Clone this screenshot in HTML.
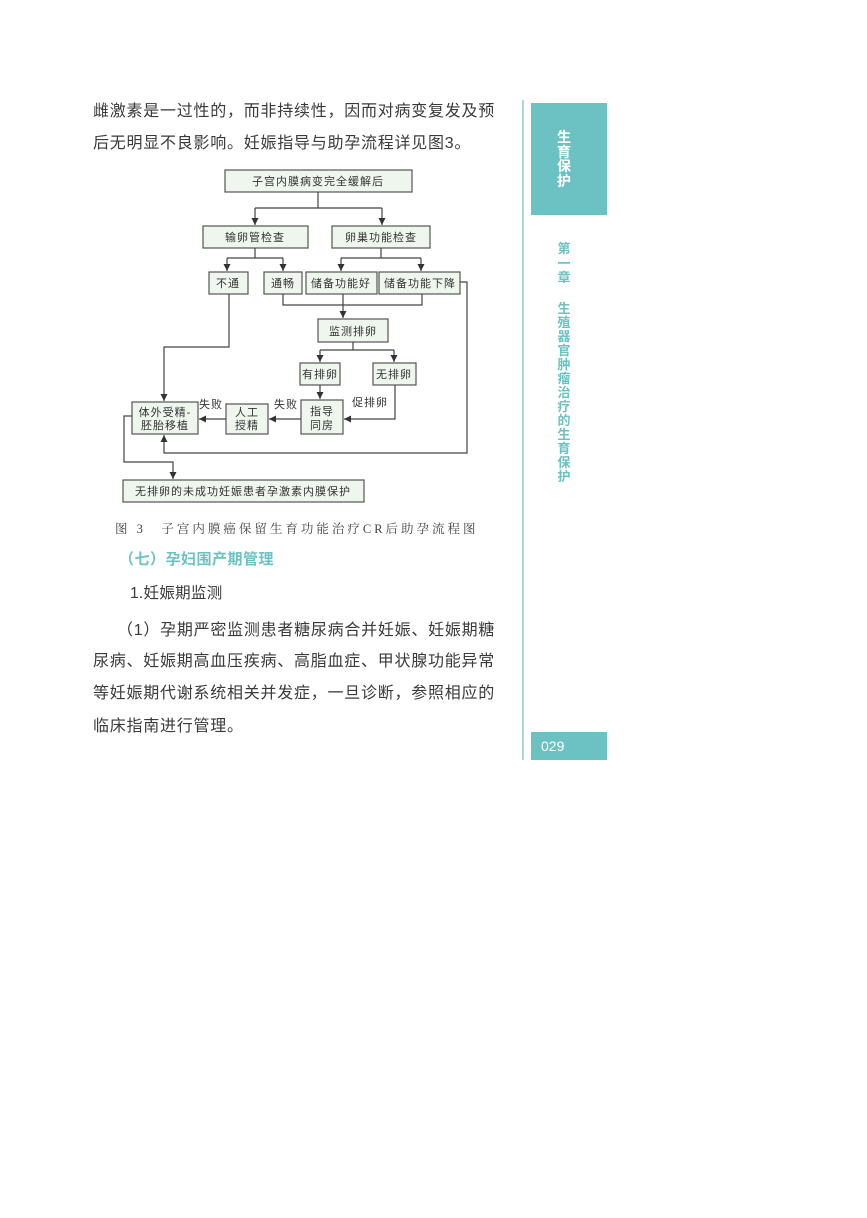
<!DOCTYPE html>
<html><head><meta charset="utf-8"><style>
body{margin:0;background:#fff;width:867px;height:1218px;position:relative;overflow:hidden;font-family:"Liberation Sans","Noto Sans CJK SC",sans-serif;color:#3a3a3a}
.t{position:absolute;white-space:nowrap;font-size:16px;letter-spacing:0.75px;line-height:20px}
.v{position:absolute;width:20px;text-align:center;font-size:13px;line-height:14px;font-weight:bold}
</style></head><body>
<div class="t" style="left:93px;top:102px;">雌激素是一过性的，而非持续性，因而对病变复发及预</div>
<div class="t" style="left:93px;top:134px;">后无明显不良影响。妊娠指导与助孕流程详见图3。</div>

<svg style="position:absolute;left:0;top:0" width="867" height="1218" font-family="Liberation Sans, Noto Sans CJK SC, sans-serif" font-size="11" fill="#333">
<defs><marker id="a" markerWidth="8" markerHeight="8" refX="7" refY="4" orient="auto" markerUnits="userSpaceOnUse"><path d="M0,0.5 L7,4 L0,7.5z" fill="#333"/></marker></defs>
<g fill="#eef6ee" stroke="#555" stroke-width="1.2">
<rect x="225" y="170" width="187" height="22"/>
<rect x="203" y="226" width="105" height="22"/>
<rect x="332" y="226" width="98" height="22"/>
<rect x="209" y="272" width="39" height="22"/>
<rect x="264" y="272" width="38" height="22"/>
<rect x="306" y="272" width="71" height="22"/>
<rect x="379" y="272" width="81" height="22"/>
<rect x="318" y="319" width="70" height="23"/>
<rect x="300" y="363" width="40" height="22"/>
<rect x="373" y="363" width="43" height="22"/>
<rect x="301" y="400" width="42" height="34"/>
<rect x="226" y="404" width="42" height="30"/>
<rect x="132" y="402" width="66" height="32"/>
<rect x="123" y="480" width="241" height="22"/>
</g>
<g fill="none" stroke="#444" stroke-width="1.2">
<path d="M318,192V208M255,208H382"/>
<path d="M255,208V225" marker-end="url(#a)"/><path d="M382,208V225" marker-end="url(#a)"/>
<path d="M255,248V258M227,258H283"/>
<path d="M227,258V271" marker-end="url(#a)"/><path d="M283,258V271" marker-end="url(#a)"/>
<path d="M381,248V258M341,258H421"/>
<path d="M341,258V271" marker-end="url(#a)"/><path d="M421,258V271" marker-end="url(#a)"/>
<path d="M283,294V305H422V294"/>
<path d="M343,294V318" marker-end="url(#a)"/>
<path d="M229,294V347H164V401" marker-end="url(#a)"/>
<path d="M460,282H467V453H164V435" marker-end="url(#a)"/>
<path d="M353,342V350M320,350H394"/>
<path d="M320,350V362" marker-end="url(#a)"/><path d="M394,350V362" marker-end="url(#a)"/>
<path d="M320,385V399" marker-end="url(#a)"/>
<path d="M395,385V419H344" marker-end="url(#a)"/>
<path d="M301,419H269" marker-end="url(#a)"/>
<path d="M226,419H199" marker-end="url(#a)"/>
<path d="M132,416H124V462H173V479" marker-end="url(#a)"/>
</g>
<g text-anchor="middle" letter-spacing="1">
<text x="318" y="185">子宫内膜病变完全缓解后</text>
<text x="255" y="241">输卵管检查</text>
<text x="381" y="241">卵巢功能检查</text>
<text x="228" y="287">不通</text>
<text x="283" y="287">通畅</text>
<text x="341" y="287">储备功能好</text>
<text x="420" y="287">储备功能下降</text>
<text x="353" y="335">监测排卵</text>
<text x="320" y="378">有排卵</text>
<text x="394" y="378">无排卵</text>
<text x="322" y="415">指导</text><text x="322" y="429">同房</text>
<text x="247" y="416">人工</text><text x="247" y="429">授精</text>
<text x="165" y="416">体外受精-</text><text x="165" y="429">胚胎移植</text>
<text x="243" y="495">无排卵的未成功妊娠患者孕激素内膜保护</text>
<text x="370" y="406">促排卵</text>
<text x="286" y="408">失败</text>
<text x="211" y="408">失败</text>
</g>
</svg>

<div class="t" style="left:115px;top:519px;font-size:12.5px;letter-spacing:3px;color:#444;font-family:'Liberation Serif','Noto Serif CJK SC',serif">图 3　子宫内膜癌保留生育功能治疗CR后助孕流程图</div>
<div class="t" style="left:119px;top:550px;font-size:15px;letter-spacing:0.5px;color:#6cc2c2;font-weight:bold">（七）孕妇围产期管理</div>
<div class="t" style="left:130px;top:584px;font-size:15.5px;letter-spacing:0.3px">1.妊娠期监测</div>
<div class="t" style="left:117px;top:621px;">（1）孕期严密监测患者糖尿病合并妊娠、妊娠期糖</div>
<div class="t" style="left:93px;top:652px;">尿病、妊娠期高血压疾病、高脂血症、甲状腺功能异常</div>
<div class="t" style="left:93px;top:684px;">等妊娠期代谢系统相关并发症，一旦诊断，参照相应的</div>
<div class="t" style="left:93px;top:717px;">临床指南进行管理。</div>

<div style="position:absolute;left:522px;top:100px;width:2px;height:660px;background:#a9d6d6"></div>
<div style="position:absolute;left:531px;top:103px;width:76px;height:112px;background:#6cc2c2"></div>
<div class="v" style="left:554px;top:130px;color:#fff;font-size:14px;line-height:14.5px">生<br>育<br>保<br>护</div>
<div class="v" style="left:554px;top:242px;color:#6cc2c2;line-height:14.5px">第<br>一<br>章</div>
<div class="v" style="left:554px;top:302px;color:#6cc2c2">生<br>殖<br>器<br>官<br>肿<br>瘤<br>治<br>疗<br>的<br>生<br>育<br>保<br>护</div>
<div style="position:absolute;left:531px;top:732px;width:76px;height:28px;background:#6cc2c2;color:#fff;font-size:14px;line-height:28px;padding-left:10px;box-sizing:border-box">029</div>
</body></html>
